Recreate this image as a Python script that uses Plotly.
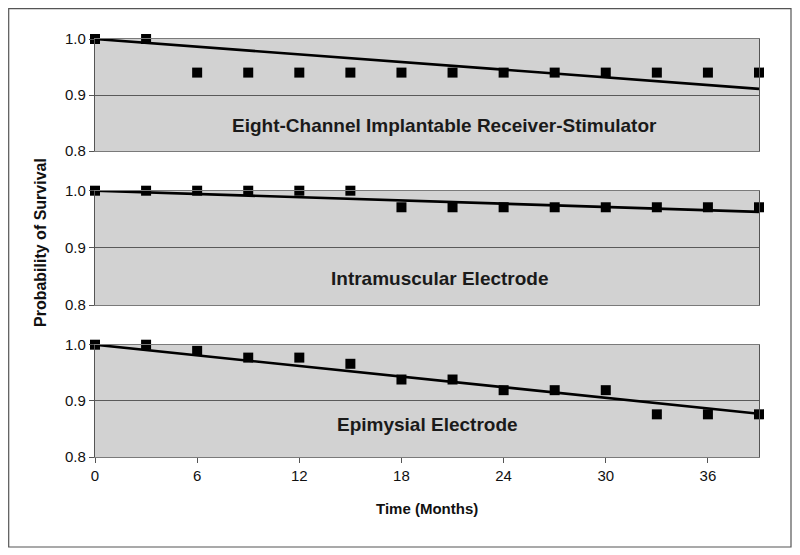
import plotly.graph_objects as go

# ---- data ----
months = [0, 3, 6, 9, 12, 15, 18, 21, 24, 27, 30, 33, 36, 39]
receiver_stim = [1.0, 1.0, 0.94, 0.94, 0.94, 0.94, 0.94, 0.94, 0.94, 0.94, 0.94, 0.94, 0.94, 0.94]
intramuscular = [1.0, 1.0, 1.0, 1.0, 1.0, 1.0, 0.971, 0.971, 0.971, 0.971, 0.971, 0.971, 0.971, 0.971]
epimysial = [1.0, 1.0, 0.989, 0.977, 0.977, 0.966, 0.938, 0.938, 0.919, 0.919, 0.919, 0.876, 0.876, 0.876]

trend_x = [0, 39]
receiver_trend = [1.0, 0.911]
intramuscular_trend = [1.0, 0.963]
epimysial_trend = [1.0, 0.877]

panel_labels = ["Eight-Channel Implantable Receiver-Stimulator",
                "Intramuscular Electrode",
                "Epimysial Electrode"]
x_ticks = [0, 6, 12, 18, 24, 30, 36]
y_ticks = [0.8, 0.9, 1.0]
y_tick_text = ["0.8", "0.9", "1.0"]

series = [receiver_stim, intramuscular, epimysial]
trends = [receiver_trend, intramuscular_trend, epimysial_trend]

# ---- layout geometry (pixels in the screenshot) ----
W, H = 800, 555
OFF = 8  # page body margin offset


def fx(px):
    return (px - OFF) / W


def fy(py):
    return 1 - (py - OFF) / H


x0_px, x1_px = 95, 759
panels_px = [(39, 151), (190.7, 305), (344.7, 457)]
label_pos = [(0.526, 0.232), (0.52, 0.236), (0.50, 0.285)]

FONT = "Liberation Sans, Arial, sans-serif"

fig = go.Figure()
layout = dict(
    width=W, height=H,
    margin=dict(l=0, r=0, t=0, b=0, pad=0),
    paper_bgcolor="white",
    plot_bgcolor="#d2d2d2",
    showlegend=False,
    font=dict(family=FONT, size=15, color="#111111"),
)

annotations = []
for i, (ys, tr) in enumerate(zip(series, trends)):
    n = i + 1
    xa = "x" if n == 1 else f"x{n}"
    ya = "y" if n == 1 else f"y{n}"
    fig.add_trace(go.Scatter(x=trend_x, y=tr, mode="lines",
                             line=dict(color="black", width=2.6),
                             xaxis=xa, yaxis=ya, cliponaxis=False,
                             hoverinfo="skip"))
    fig.add_trace(go.Scatter(x=months, y=ys, mode="markers",
                             marker=dict(symbol="square", size=10, color="black"),
                             xaxis=xa, yaxis=ya, cliponaxis=False))
    top, bot = panels_px[i]
    xkey = "xaxis" if n == 1 else f"xaxis{n}"
    ykey = "yaxis" if n == 1 else f"yaxis{n}"
    is_bottom = (n == 3)
    layout[xkey] = dict(
        domain=[fx(x0_px), fx(x1_px)],
        range=[0, 39],
        anchor=ya,
        automargin=False,
        showgrid=False, zeroline=False,
        showline=True, linecolor="#7a7a7a", linewidth=1.2, mirror=True,
        tickmode="array", tickvals=x_ticks,
        showticklabels=is_bottom,
        ticks="outside" if is_bottom else "",
        ticklen=5, tickcolor="#555555",
        tickfont=dict(size=15, color="#111111"),
    )
    layout[ykey] = dict(
        domain=[fy(bot), fy(top)],
        range=[0.8, 1.0],
        anchor=xa,
        automargin=False,
        showgrid=True, gridcolor="#5a5a5a", gridwidth=1,
        zeroline=False,
        showline=True, linecolor="#555555", linewidth=1.2, mirror=True,
        tickmode="array", tickvals=y_ticks, ticktext=y_tick_text,
        ticks="outside", ticklen=5, tickcolor="#555555",
        tickfont=dict(size=15, color="#111111"),
    )
    lx, ly = label_pos[i]
    annotations.append(dict(
        text=panel_labels[i], xref=f"{xa} domain", yref=f"{ya} domain",
        x=lx, y=ly, xanchor="center", yanchor="middle", showarrow=False,
        font=dict(family=FONT, size=19, color="#1a1a1a", weight="bold"),
    ))

annotations.append(dict(
    text="Probability of Survival", xref="paper", yref="paper",
    x=fx(40), y=fy(243), textangle=-90, showarrow=False,
    xanchor="center", yanchor="middle",
    font=dict(family=FONT, size=16, color="#111111", weight="bold"),
))
annotations.append(dict(
    text="Time (Months)", xref="paper", yref="paper",
    x=fx(427), y=fy(508), showarrow=False,
    xanchor="center", yanchor="middle",
    font=dict(family=FONT, size=15, color="#111111", weight="bold"),
))
layout["annotations"] = annotations

layout["shapes"] = [dict(
    type="rect", xref="paper", yref="paper",
    x0=fx(8.7), x1=fx(791), y0=fy(547), y1=fy(8.7),
    line=dict(color="#555555", width=1.2), fillcolor="rgba(0,0,0,0)",
    layer="below",
)]

fig.update_layout(**layout)
fig.write_html("out.html")
